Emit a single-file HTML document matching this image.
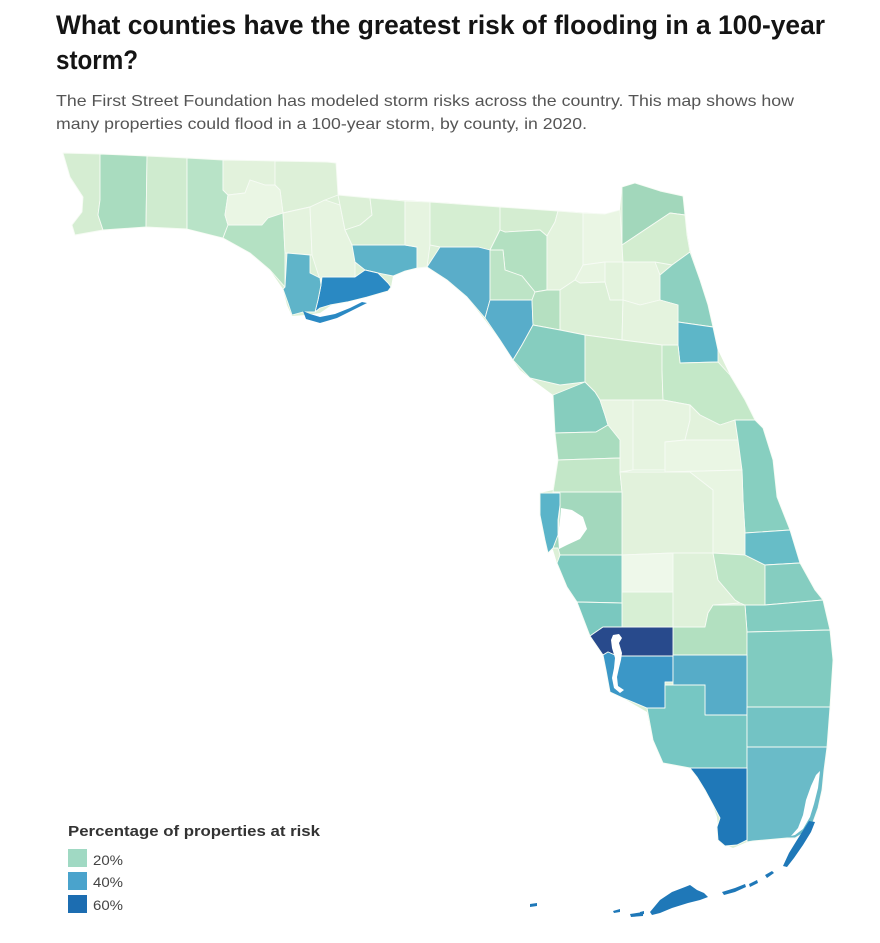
<!DOCTYPE html>
<html>
<head>
<meta charset="utf-8">
<style>
  html, body { margin: 0; padding: 0; background: #ffffff; }
  svg { display: block; }
  .t { font-family: "Liberation Sans", Arial, sans-serif; }
</style>
</head>
<body>
<svg width="880" height="943" viewBox="0 0 880 943" xmlns="http://www.w3.org/2000/svg">
  <rect x="0" y="0" width="880" height="943" fill="#ffffff"/>

  <!-- Title -->
  <text class="t" x="56" y="34" font-size="27" font-weight="bold" fill="#141414" textLength="769" lengthAdjust="spacingAndGlyphs">What counties have the greatest risk of flooding in a 100-year</text>
  <text class="t" x="56" y="69" font-size="27" font-weight="bold" fill="#141414" textLength="82" lengthAdjust="spacingAndGlyphs">storm?</text>
  <text class="t" x="56" y="106" font-size="16" fill="#555555" textLength="738" lengthAdjust="spacingAndGlyphs">The First Street Foundation has modeled storm risks across the country. This map shows how</text>
  <text class="t" x="56" y="129" font-size="16" fill="#555555" textLength="531" lengthAdjust="spacingAndGlyphs">many properties could flood in a 100-year storm, by county, in 2020.</text>

  <!-- Base state outline -->
  <polygon fill="#dcf0d7" points="63,153 100,154 147,156 187,158 223,160 275,161 327,162 336,163 338,195 370,198 400,200 450,203 500,207 560,211 605,214 620,210 622,187 635,183 660,191 683,196 685,220 690,250 700,280 708,305 713,327 718,350 730,375 745,400 755,420 763,428 773,460 777,497 790,530 800,563 815,590 823,600 830,630 833,660 830,707 827,747 824,770 822,790 818,808 813,822 805,832 795,838 787,838 753,841 747,842 733,848 720,842 717,817 707,787 690,768 663,763 653,740 647,712 623,698 610,692 606,670 603,655 590,634 577,602 567,587 557,563 553,550 545,540 540,515 540,493 553,490 558,460 555,433 553,395 530,378 520,370 513,360 500,340 485,320 467,297 447,280 427,267 417,268 405,271 393,276 391,287 387,291 367,297 350,300 333,304 320,313 305,315 292,316 287,305 283,289 270,270 250,253 223,238 187,229 147,227 103,230 75,235 72,225 82,212 83,197 70,177"/>

  <g stroke="#f6fbf4" stroke-width="0.9" stroke-linejoin="round">
    <!-- Panhandle -->
    <polygon fill="#d5edd2" points="63,153 100,154 100,200 98,215 103,230 75,235 72,225 82,212 83,197 70,177"/>
    <polygon fill="#a9dcbf" points="100,154 147,156 146,227 103,230 98,215 100,200"/>
    <polygon fill="#cfebcf" points="147,156 187,158 187,229 146,227"/>
    <polygon fill="#b8e3c7" points="187,158 223,160 223,190 228,195 225,215 228,225 223,238 187,229"/>
    <polygon fill="#e2f2dc" points="223,160 275,161 275,185 265,185 250,180 245,193 228,195 223,190"/>
    <polygon fill="#ddf0d8" points="275,161 327,162 336,163 338,195 325,200 310,207 283,213 280,190 275,185"/>
    <polygon fill="#eaf6e4" points="228,195 245,193 250,180 265,185 275,185 280,190 283,213 268,218 262,225 228,225 225,215"/>
    <polygon fill="#b4e1c3" points="223,238 228,225 262,225 268,218 283,213 285,253 285,287 270,270 250,253"/>
    <polygon fill="#e4f3de" points="283,213 310,207 312,255 285,253"/>
    <polygon fill="#e6f4e0" points="310,207 325,200 340,205 345,230 352,245 355,262 355,277 323,277 320,280 312,255"/>
    <polygon fill="#dcf0d7" points="338,195 370,198 372,215 360,225 345,230 340,205"/>
    <polygon fill="#d6eed3" points="370,198 405,201 405,245 352,245 345,230 360,225 372,215"/>
    <polygon fill="#5db3c9" points="352,245 405,245 417,247 417,268 405,271 393,276 378,273 365,270 355,262"/>
    <polygon fill="#2a89c3" points="322,277 355,277 365,270 378,273 388,283 391,287 388,291 367,297 347,302 330,305 320,308 315,312 318,300 321,285"/>
    <polygon fill="#5fb4c9" points="287,253 310,255 310,273 320,278 321,285 318,300 315,312 303,312 292,315 288,303 283,289 285,287"/>
    <polygon fill="#2a89c3" stroke="none" points="303,311 306,319 320,323 337,318 353,310 367,303 362,302 350,308 335,314 320,317 310,314"/>

    <!-- Big Bend / North -->
    <polygon fill="#e6f4e0" points="405,201 430,202 430,245 427,267 417,268 417,247 405,245"/>
    <polygon fill="#d5eed2" points="430,202 500,207 500,230 490,250 478,247 440,247 430,245"/>
    <polygon fill="#5aadc9" points="427,267 440,247 478,247 490,250 490,300 485,318 467,297 447,280"/>
    <polygon fill="#d4edd1" points="500,207 558,211 555,222 547,236 540,230 505,232 500,230"/>
    <polygon fill="#b3e0c1" points="500,230 505,232 540,230 547,236 547,290 535,292 522,276 505,270 503,250 490,250"/>
    <polygon fill="#bde4c6" points="490,250 503,250 505,270 522,276 535,292 532,300 490,300"/>
    <polygon fill="#58adca" points="490,300 532,300 533,325 522,345 513,360 500,340 485,318"/>
    <polygon fill="#e4f3de" points="558,211 583,213 583,265 575,280 560,290 547,290 547,236 555,222"/>
    <polygon fill="#eaf6e4" points="583,213 605,214 620,210 622,245 623,262 605,262 583,265"/>
    <polygon fill="#e8f5e2" points="583,265 605,262 605,282 580,283 575,280"/>
    <polygon fill="#e3f3dd" points="605,262 623,262 623,300 610,300 605,282"/>
    <polygon fill="#a2d7bb" points="622,187 635,183 660,191 683,196 685,215 670,213 622,245"/>
    <polygon fill="#d3edd0" points="622,245 670,213 685,215 687,235 690,252 672,265 655,262 623,262"/>
    <polygon fill="#e8f5e2" points="623,262 655,262 660,275 660,300 640,305 623,300"/>
    <polygon fill="#8dd0c0" points="672,265 690,252 700,280 708,305 713,327 678,322 678,305 660,300 660,275"/>
    <polygon fill="#5db6c8" points="678,322 713,327 718,350 718,362 680,363 678,345"/>
    <polygon fill="#b5e0c1" points="532,300 535,292 547,290 560,290 560,330 533,325"/>
    <polygon fill="#dcf0d7" points="560,290 575,280 580,283 605,282 610,300 623,300 622,340 585,335 560,330"/>
    <polygon fill="#e4f3de" points="623,300 640,305 660,300 678,305 678,345 662,345 622,340"/>
    <polygon fill="#86cdbf" points="533,325 560,330 585,335 585,382 560,385 530,378 513,360 522,345"/>
    <polygon fill="#cdeacb" points="585,335 622,340 662,345 662,370 663,400 633,400 600,400 595,392 585,382"/>
    <polygon fill="#c4e8c8" points="662,345 678,345 680,363 718,362 730,375 745,400 755,420 735,420 720,425 700,415 690,405 663,400 662,370"/>

    <!-- Central -->
    <polygon fill="#86cdbe" points="553,395 585,382 595,392 600,400 605,415 608,425 596,432 555,433"/>
    <polygon fill="#e8f5e2" points="600,400 633,400 633,470 620,472 620,440 608,425 605,415"/>
    <polygon fill="#a9dcbe" points="555,433 596,432 608,425 620,440 620,458 558,460"/>
    <polygon fill="#c3e7c8" points="558,460 620,458 620,472 622,492 553,492"/>
    <polygon fill="#e6f4e0" points="633,400 663,400 690,405 690,420 685,440 665,442 665,470 633,470"/>
    <polygon fill="#e2f2dc" points="690,405 700,415 720,425 735,420 738,440 685,440 690,420"/>
    <polygon fill="#eaf6e4" points="665,442 685,440 738,440 742,470 665,472"/>
    <polygon fill="#87cfc0" points="735,420 755,420 763,428 773,460 777,497 790,530 745,533 743,500 742,470 738,440"/>
    <polygon fill="#e2f2dc" points="620,472 665,472 690,472 713,490 713,553 673,553 622,555 622,492"/>
    <polygon fill="#e8f5e2" points="665,472 742,470 743,500 745,533 745,555 713,553 713,490 690,472"/>
    <polygon fill="#a3d8bd" points="553,492 622,492 622,555 560,555 558,548 553,548 558,535 560,505"/>
    <polygon fill="#5ab4c9" points="540,493 560,493 560,505 558,520 558,535 553,548 548,553 545,540 540,515"/>

    <!-- South-central -->
    <polygon fill="#7fcbc0" points="557,563 560,555 622,555 622,603 577,602 567,587"/>
    <polygon fill="#eef8ea" points="622,555 673,553 673,592 622,592"/>
    <polygon fill="#d7efd4" points="622,592 673,592 673,627 622,627"/>
    <polygon fill="#dff1da" points="673,553 713,553 718,580 735,600 740,603 713,605 708,613 705,627 673,627"/>
    <polygon fill="#bde5c6" points="713,553 745,555 765,565 765,605 745,605 740,603 735,600 718,580"/>
    <polygon fill="#67bdc7" points="745,533 790,530 800,563 765,565 745,555"/>
    <polygon fill="#85cdc0" points="765,565 800,563 815,590 823,600 765,605"/>
    <polygon fill="#82ccc0" points="745,605 765,605 823,600 830,630 747,632"/>
    <polygon fill="#b2e0c0" points="673,627 705,627 708,613 713,605 745,605 747,632 747,655 673,655"/>
    <polygon fill="#7ac8bf" points="577,602 622,603 622,627 603,627 590,636"/>
    <polygon fill="#284a8c" points="590,636 603,627 622,627 673,627 673,656 617,656 608,652 603,655"/>

    <!-- South -->
    <polygon fill="#80cbc0" points="747,632 830,630 833,660 830,707 747,707"/>
    <polygon fill="#3b97c7" points="603,655 608,652 617,656 673,656 673,682 665,682 665,708 647,708 623,698 610,692 606,670"/>
    <polygon fill="#56acc8" points="673,655 747,655 747,715 705,715 705,685 673,685"/>
    <polygon fill="#76c7c3" points="665,685 705,685 705,715 747,715 747,768 690,768 663,763 653,740 647,708 665,708"/>
    <polygon fill="#73c3c4" points="747,707 830,707 827,747 747,747"/>
    <polygon fill="#6abbc8" points="747,747 827,747 824,770 822,790 818,808 813,822 805,832 795,838 787,838 753,841 747,842"/>
    <polygon fill="#1f78b8" points="690,768 747,768 747,840 737,845 725,846 718,840 717,827 720,818 712,803 705,790 697,777"/>
  </g>

  <!-- Water cut-outs -->
  <polygon fill="#ffffff" points="561,508 572,510 583,517 587,529 580,539 567,545 559,549 558,535 560,520"/>
  <polygon fill="#ffffff" points="613,635 619,634 622,638 619,643 622,653 621,660 619,668 617,677 618,686 624,690 620,693 614,688 612,678 614,668 615,658 612,648 611,640"/>
  <polygon fill="#ffffff" points="820,771 818,788 814,804 810,817 803,829 795,835 791,836 798,828 803,815 806,800 811,786 816,775"/>

  <!-- Keys -->
  <g fill="#1f78b8">
    <polygon points="809,821 815,822 811,832 803,845 794,858 787,867 783,866 789,853 797,840 804,829"/>
    <polygon points="765,875 772,871 774,873 767,878"/>
    <polygon points="749,884 757,880 758,883 750,887"/>
    <polygon points="722,892 735,888 745,884 746,887 735,892 724,895"/>
    <polygon points="650,912 660,900 672,892 685,887 690,885 697,890 704,893 708,897 700,900 688,903 672,908 660,913 652,915"/>
    <polygon points="640,912 644,911 644,914 640,915"/>
    <polygon points="630,914 643,912 643,916 631,917"/>
    <polygon points="613,911 620,909 620,912 614,913"/>
    <polygon points="530,904 537,903 537,906 530,907"/>
  </g>

  <!-- Legend -->
  <text class="t" x="68" y="836" font-size="15" font-weight="bold" fill="#333333" textLength="252" lengthAdjust="spacingAndGlyphs">Percentage of properties at risk</text>
  <rect x="68" y="849" width="19" height="18" fill="#a0d9c3"/>
  <rect x="68" y="872" width="19" height="18" fill="#4aa3cc"/>
  <rect x="68" y="895" width="19" height="18" fill="#1c6db1"/>
  <text class="t" x="93" y="865" font-size="14" fill="#444444" textLength="30" lengthAdjust="spacingAndGlyphs">20%</text>
  <text class="t" x="93" y="887" font-size="14" fill="#444444" textLength="30" lengthAdjust="spacingAndGlyphs">40%</text>
  <text class="t" x="93" y="910" font-size="14" fill="#444444" textLength="30" lengthAdjust="spacingAndGlyphs">60%</text>
</svg>
</body>
</html>
